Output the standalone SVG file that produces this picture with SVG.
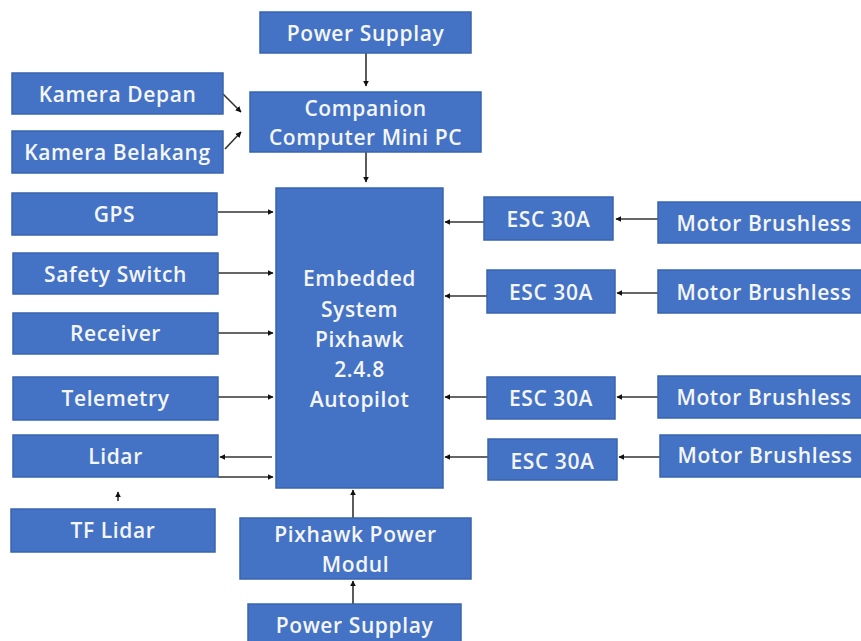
<svg xmlns="http://www.w3.org/2000/svg" width="861" height="641" viewBox="0 0 861 641">
<defs>
<style>
.box{fill:#4472C4;stroke:#3A64B0;stroke-width:1.5}
.t{font-family:"Open Sans","Noto Sans","Liberation Sans",sans-serif;font-size:21px;font-weight:600;letter-spacing:0.6px;fill:#F4F6FA;text-anchor:middle;dominant-baseline:central}
.c{stroke:#333;stroke-width:1.6;fill:none;marker-end:url(#ah)}
</style>
<marker id="ah" viewBox="0 0 10 10" refX="9" refY="5" markerWidth="6" markerHeight="6" markerUnits="userSpaceOnUse" orient="auto">
<path d="M0,0 L10,5 L0,10 z" fill="#111"/>
</marker>
</defs>
<rect width="861" height="641" fill="#fff"/>
<g id="connectors">
<line class="c" x1="366" y1="53" x2="366" y2="86"/>
<line class="c" x1="223" y1="94" x2="241" y2="112"/>
<line class="c" x1="225" y1="149" x2="241" y2="132"/>
<line class="c" x1="366" y1="152" x2="366" y2="182"/>
<line class="c" x1="218" y1="212" x2="273" y2="212"/>
<line class="c" x1="218" y1="273" x2="273" y2="273"/>
<line class="c" x1="218" y1="333" x2="273" y2="333"/>
<line class="c" x1="218" y1="397" x2="273" y2="397"/>
<line class="c" x1="272" y1="457" x2="220" y2="457"/>
<line class="c" x1="218" y1="477" x2="273" y2="477"/>
<line class="c" x1="118" y1="501" x2="118" y2="492"/>
<line class="c" x1="353" y1="518" x2="353" y2="490"/>
<line class="c" x1="353" y1="604" x2="353" y2="581"/>
<line class="c" x1="484" y1="222" x2="445" y2="222"/>
<line class="c" x1="487" y1="296" x2="445" y2="296"/>
<line class="c" x1="487" y1="397" x2="445" y2="397"/>
<line class="c" x1="488" y1="457" x2="445" y2="457"/>
<line class="c" x1="658" y1="219" x2="616" y2="219"/>
<line class="c" x1="658" y1="293" x2="617" y2="293"/>
<line class="c" x1="658" y1="397" x2="617" y2="397"/>
<line class="c" x1="660" y1="457" x2="619" y2="457"/>
</g>
<g id="ps-top"><rect class="box" x="260" y="12" width="211" height="41"/><text class="t" x="365.5" y="32.5">Power Supplay</text></g>
<g id="kamera-depan"><rect class="box" x="12" y="73" width="211" height="41"/><text class="t" x="117.5" y="93.5">Kamera Depan</text></g>
<g id="kamera-belakang"><rect class="box" x="12" y="131" width="211" height="42"/><text class="t" x="117.5" y="152">Kamera Belakang</text></g>
<g id="companion"><rect class="box" x="250" y="92" width="231" height="60"/><text class="t" x="365.5" y="108">Companion</text><text class="t" x="365.5" y="137">Computer Mini PC</text></g>
<g id="gps"><rect class="box" x="12" y="193" width="205" height="42"/><text class="t" x="114.5" y="214">GPS</text></g>
<g id="safety"><rect class="box" x="13" y="253" width="205" height="41"/><text class="t" x="115.5" y="273.5">Safety Switch</text></g>
<g id="receiver"><rect class="box" x="13" y="313" width="205" height="41"/><text class="t" x="115.5" y="333">Receiver</text></g>
<g id="telemetry"><rect class="box" x="13" y="377" width="205" height="43"/><text class="t" x="115.5" y="397.5">Telemetry</text></g>
<g id="lidar"><rect class="box" x="13" y="435" width="205" height="42"/><text class="t" x="115.5" y="456">Lidar</text></g>
<g id="tf-lidar"><rect class="box" x="11" y="509" width="204" height="43"/><text class="t" x="113" y="530">TF Lidar</text></g>
<g id="pixhawk"><rect class="box" x="276" y="188" width="167" height="300"/><text class="t" x="359.5" y="278">Embedded</text><text class="t" x="359.5" y="309">System</text><text class="t" x="359.5" y="339">Pixhawk</text><text class="t" x="359.5" y="369">2.4.8</text><text class="t" x="359.5" y="399">Autopilot</text></g>
<g id="power-modul"><rect class="box" x="240" y="518" width="231" height="61"/><text class="t" x="355.5" y="534">Pixhawk Power</text><text class="t" x="355.5" y="564">Modul</text></g>
<g id="ps-bottom"><rect class="box" x="248" y="604" width="213" height="45"/><text class="t" x="354.5" y="625">Power Supplay</text></g>
<g id="esc1"><rect class="box" x="484" y="197" width="129" height="43"/><text class="t" x="548.5" y="218.5">ESC 30A</text></g>
<g id="esc2"><rect class="box" x="487" y="270" width="128" height="43"/><text class="t" x="551" y="291.5">ESC 30A</text></g>
<g id="esc3"><rect class="box" x="487" y="377" width="128" height="42"/><text class="t" x="551" y="398">ESC 30A</text></g>
<g id="esc4"><rect class="box" x="488" y="439" width="129" height="41"/><text class="t" x="552.5" y="460.5">ESC 30A</text></g>
<g id="motor1"><rect class="box" x="658" y="202" width="210" height="41"/><text class="t" x="764" y="222.5">Motor Brushless</text></g>
<g id="motor2"><rect class="box" x="658" y="270" width="210" height="43"/><text class="t" x="764" y="291.5">Motor Brushless</text></g>
<g id="motor3"><rect class="box" x="658" y="376" width="210" height="42"/><text class="t" x="764" y="397">Motor Brushless</text></g>
<g id="motor4"><rect class="box" x="660" y="435" width="210" height="42"/><text class="t" x="765" y="455">Motor Brushless</text></g>
</svg>
